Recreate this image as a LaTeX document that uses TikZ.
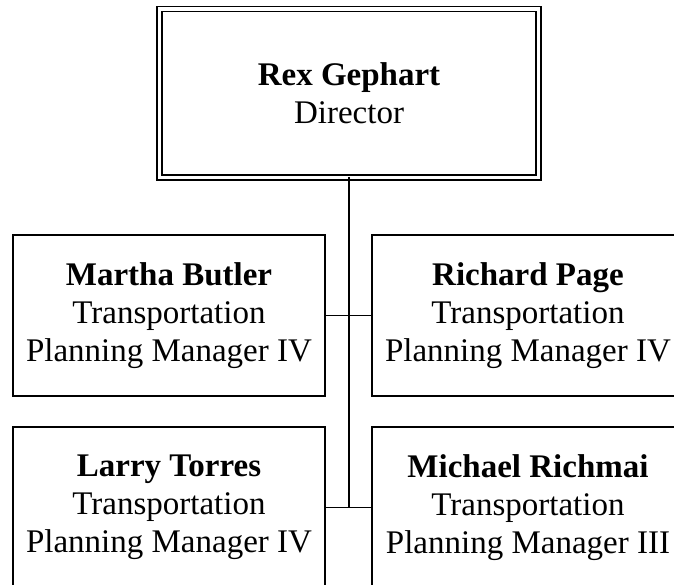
\documentclass[tikz,border=0pt]{standalone}
\usepackage{fontspec}
\setmainfont{Liberation Serif}
\usetikzlibrary{positioning}

\begin{document}
\begin{tikzpicture}[
    node distance=31pt and 47pt,
    box/.style={rectangle, draw, line width=1.3pt, outer sep=0pt, inner sep=0pt,
      align=center, font=\fontsize{33}{38}\selectfont},
    head/.style={box, double, double distance=3.7pt, minimum width=379pt, minimum height=168.5pt},
    staff/.style={box, minimum width=312pt, minimum height=161pt},
    link/.style={line width=1.3pt}
  ]
  \useasboundingbox (0,0) rectangle (674pt,-585pt);
  \clip (0,0) rectangle (674pt,-585pt);

  % director
  \node[head] (rex) at (349pt,-93.25pt) {\textbf{Rex Gephart}\\Director};

  % managers
  \node[staff, below left=57.5pt and 24pt of rex.south] (martha)
    {\textbf{Martha Butler}\\Transportation\\Planning Manager IV};
  \node[staff, right=of martha] (richard)
    {\textbf{Richard Page}\\Transportation\\Planning Manager IV};
  \node[staff, below=of martha] (larry)
    {\textbf{Larry Torres}\\Transportation\\Planning Manager IV};
  \node[staff, below=of richard] (michael)
    {\textbf{Michael Richmai}\\Transportation\\Planning Manager III};

  % connectors
  \coordinate (spine) at (rex.south |- larry.east);
  \draw[link] (rex) -- (spine);
  \draw[link] (martha) -- (richard);
  \draw[link] (larry) -- (michael);
\end{tikzpicture}
\end{document}
